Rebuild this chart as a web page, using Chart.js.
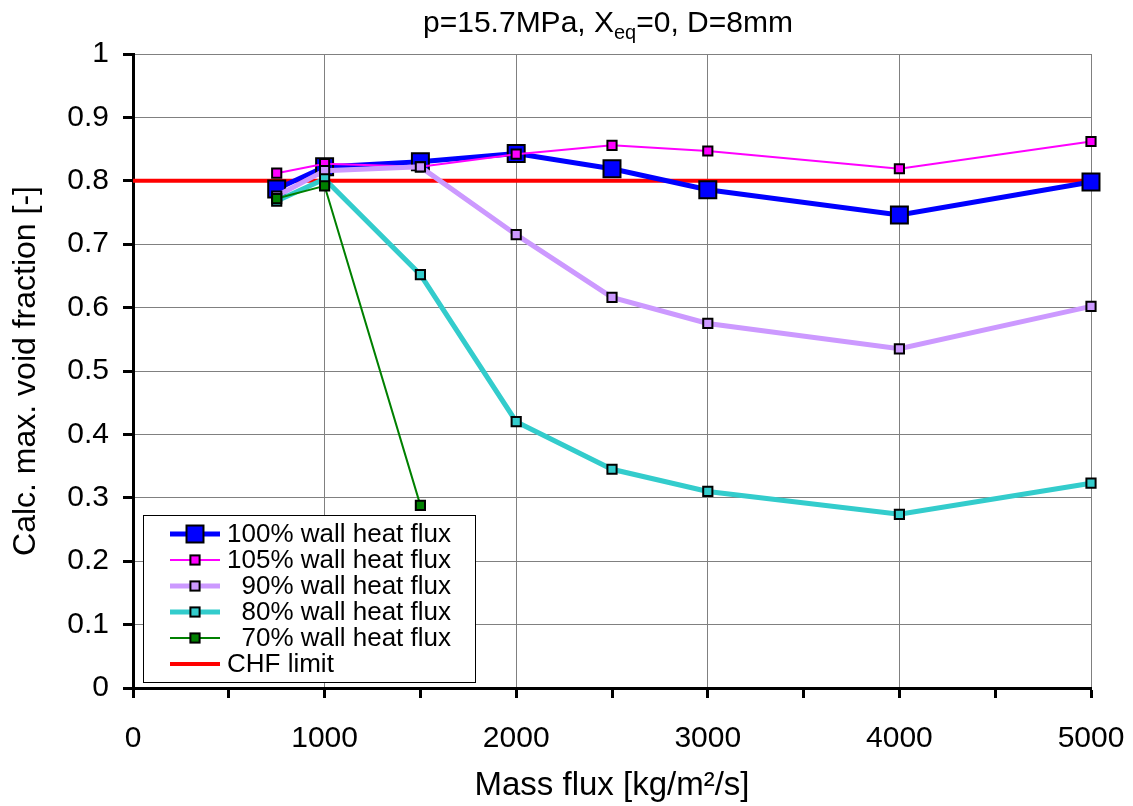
<!DOCTYPE html>
<html>
<head>
<meta charset="utf-8">
<script src="https://cdn.jsdelivr.net/npm/chart.js@4.4.1/dist/chart.umd.min.js"></script>
<style>
  html, body { margin: 0; padding: 0; background: #fff; }
  #wrap { width: 1133px; height: 806px; position: relative; }
</style>
</head>
<body>
<div id="wrap"><canvas id="voidChart"></canvas></div>
<script>
const massFlux = [750, 1000, 1500, 2000, 2500, 3000, 4000, 5000];
const void100 = [0.787, 0.822, 0.830, 0.843, 0.819, 0.786, 0.746, 0.798];
const void105 = [0.812, 0.827, 0.822, 0.842, 0.856, 0.847, 0.819, 0.862];
const void90 = [0.776, 0.816, 0.822, 0.715, 0.616, 0.575, 0.535, 0.602];
const void80 = [0.768, 0.803, 0.652, 0.420, 0.345, 0.310, 0.274, 0.323];
const flux70 = [750, 1000, 1500];
const void70 = [0.772, 0.792, 0.288];
const chfFlux = [0, 5000];
const chfLimit = [0.8, 0.8];

const seriesLabels = ['100% wall heat flux', '105% wall heat flux', '\u200790% wall heat flux',
                      '\u200780% wall heat flux', '\u200770% wall heat flux', 'CHF limit'];

const FONT = "'Liberation Sans', Arial, sans-serif";

const toPoints = (xs, ys) => xs.map((x, i) => ({ x: x, y: ys[i] }));

function series(label, xs, ys, color, width, radius, order) {
    return {
        label: label,
        data: toPoints(xs, ys),
        borderColor: color,
        backgroundColor: color,
        borderWidth: width,
        pointStyle: 'rect',
        pointRadius: radius,
        pointBorderColor: '#000',
        pointBorderWidth: 2,
        pointBackgroundColor: color,
        showLine: true,
        tension: 0,
        clip: false,
        order: order
    };
}

// title with subscript
const titlePlugin = {
    id: 'titlePlugin',
    afterDraw(chart) {
        const ctx = chart.ctx;
        const parts = [['p=15.7MPa, X', 30, 0], ['eq', 20, 7], ['=0, D=8mm', 30, 0]];
        ctx.save();
        ctx.fillStyle = '#000';
        ctx.textBaseline = 'alphabetic';
        let total = 0;
        parts.forEach(p => { ctx.font = p[1] + 'px ' + FONT; total += ctx.measureText(p[0]).width; });
        let x = 608 - total / 2;
        parts.forEach(p => {
            ctx.font = p[1] + 'px ' + FONT;
            ctx.fillText(p[0], x, 32 + p[2]);
            x += ctx.measureText(p[0]).width;
        });
        ctx.restore();
    }
};

// legend box drawn inside the plot, like the original
const legendPlugin = {
    id: 'boxLegend',
    afterDraw(chart) {
        const ctx = chart.ctx;
        const left = 143, top = 515, right = 475, bottom = 682;
        ctx.save();
        ctx.fillStyle = '#fff';
        ctx.fillRect(left, top, right - left, bottom - top);
        ctx.strokeStyle = '#000';
        ctx.lineWidth = 1;
        ctx.strokeRect(left + 0.5, top + 0.5, right - left, bottom - top);
        ctx.font = '26px ' + FONT;
        ctx.textBaseline = 'middle';
        chart.data.datasets.forEach((ds, i) => {
            const y = 534 + i * 26;
            ctx.strokeStyle = ds.borderColor;
            ctx.lineWidth = ds.borderWidth;
            ctx.beginPath();
            ctx.moveTo(170, y);
            ctx.lineTo(220, y);
            ctx.stroke();
            if (ds.pointRadius > 0) {
                const s = ds.pointRadius * Math.SQRT1_2;
                ctx.fillStyle = ds.pointBackgroundColor;
                ctx.fillRect(195 - s, y - s, 2 * s, 2 * s);
                ctx.lineWidth = 2;
                ctx.strokeStyle = '#000';
                ctx.strokeRect(195 - s, y - s, 2 * s, 2 * s);
            }
            ctx.fillStyle = '#000';
            ctx.fillText(ds.label, 227, y + 1);
        });
        ctx.restore();
    }
};

new Chart(document.getElementById('voidChart'), {
    type: 'scatter',
    data: {
        datasets: [
            series(seriesLabels[0], massFlux, void100, '#0000FF', 5, 12, 6),
            series(seriesLabels[1], massFlux, void105, '#FF00FF', 2, 6.5, 5),
            series(seriesLabels[2], massFlux, void90, '#CC99FF', 5, 6.5, 4),
            series(seriesLabels[3], massFlux, void80, '#33CCCC', 5, 6.5, 3),
            series(seriesLabels[4], flux70, void70, '#008000', 2, 6.5, 2),
            series(seriesLabels[5], chfFlux, chfLimit, '#FF0000', 4, 0, 7)
        ]
    },
    options: {
        responsive: true,
        maintainAspectRatio: false,
        animation: false,
        layout: { padding: { top: 54, right: 42, left: 0, bottom: 0 } },
        plugins: {
            legend: { display: false },
            tooltip: { enabled: false }
        },
        scales: {
            x: {
                type: 'linear',
                min: 0,
                max: 5000,
                afterFit: (scale) => {
                    scale.height = 118;
                    scale.paddingLeft = 0;
                    scale.paddingRight = 0;
                },
                border: { color: '#000', width: 3 },
                grid: {
                    color: (c) => (c.tick && c.tick.value % 1000 === 0) ? '#808080' : 'rgba(0,0,0,0)',
                    lineWidth: 1,
                    tickColor: '#000',
                    tickWidth: 3,
                    tickLength: 10
                },
                ticks: {
                    stepSize: 500,
                    autoSkip: false,
                    maxRotation: 0,
                    padding: 23,
                    color: '#000',
                    font: { family: FONT, size: 30 },
                    callback: (v) => v % 1000 === 0 ? String(v) : ''
                },
                title: {
                    display: true,
                    text: 'Mass flux [kg/m\u00b2/s]',
                    color: '#000',
                    font: { family: FONT, size: 33 },
                    padding: { top: 4, bottom: 0 }
                }
            },
            y: {
                min: 0,
                max: 1,
                afterFit: (scale) => {
                    scale.width = 133;
                    scale.paddingTop = 0;
                    scale.paddingBottom = 0;
                },
                border: { color: '#000', width: 3 },
                grid: {
                    color: '#808080',
                    lineWidth: 1,
                    tickColor: '#000',
                    tickWidth: 3,
                    tickLength: 10
                },
                ticks: {
                    stepSize: 0.1,
                    padding: 14,
                    color: '#000',
                    font: { family: FONT, size: 30 },
                    callback: (v) => String(Math.round(v * 10) / 10)
                },
                title: {
                    display: true,
                    text: 'Calc. max. void fraction [-]',
                    color: '#000',
                    font: { family: FONT, size: 32 },
                    padding: { top: 7, bottom: 0 }
                }
            }
        }
    },
    plugins: [titlePlugin, legendPlugin]
});
</script>
</body>
</html>
